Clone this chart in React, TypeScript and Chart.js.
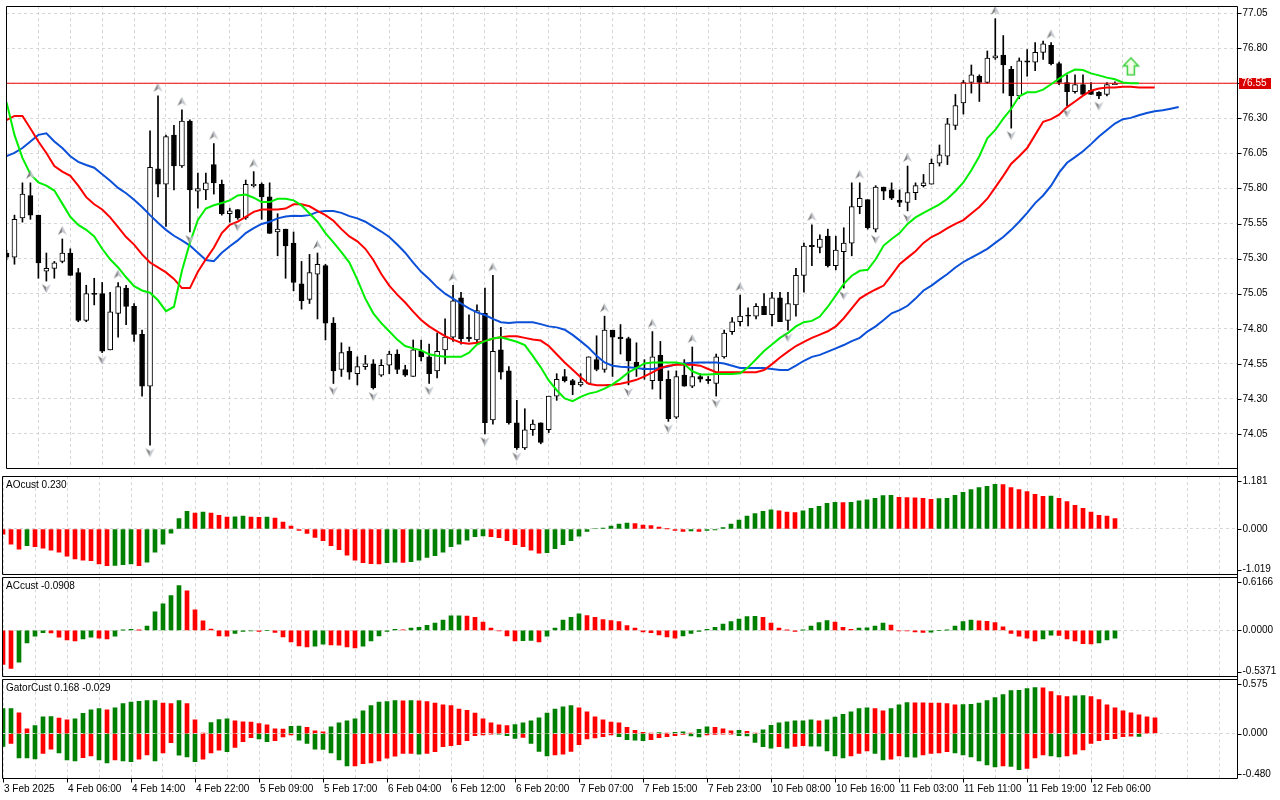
import React, { useEffect, useRef } from "react";
import Chart from "chart.js/auto";
import type { ChartConfiguration, Plugin } from "chart.js";

// H1 candles, bar 0 = 3 Feb 2025
const openPrices = [
    75.34, 75.31, 75.59, 75.75, 75.61, 75.21, 75.23, 75.28, 75.34, 75.20,
    74.86, 75.05, 75.05, 74.65, 74.91, 75.09, 74.96, 74.76, 74.39, 75.94,
    75.83, 76.18, 75.96, 76.28, 75.78, 75.79, 75.97, 75.83, 75.62, 75.65,
    75.59, 75.82, 75.83, 75.74, 75.49, 75.51, 75.41, 75.12, 75.01, 75.19,
    75.25, 74.84, 74.51, 74.64, 74.48, 74.53, 74.55, 74.47, 74.54, 74.62,
    74.51, 74.46, 74.64, 74.60, 74.50, 74.65, 74.74, 75.02, 74.74, 74.72,
    74.91, 74.15, 74.65, 74.50, 74.13, 73.95, 74.08, 74.13, 74.08, 74.32,
    74.46, 74.43, 74.40, 74.41, 74.58, 74.51, 74.79, 74.74, 74.73, 74.56,
    74.51, 74.43, 74.61, 74.44, 74.17, 74.47, 74.39, 74.46, 74.44, 74.41,
    74.60, 74.78, 74.85, 74.895, 74.89, 74.96, 74.90, 75.02, 74.86, 74.97,
    75.18, 75.395, 75.38, 75.46, 75.25, 75.35, 75.41, 75.67, 75.72, 75.51,
    75.81, 75.79, 75.715, 75.70, 75.77, 75.82, 75.83, 75.98, 76.03, 76.25,
    76.41, 76.555, 76.60, 76.555, 76.73, 76.75, 76.65, 76.46, 76.71, 76.70,
    76.77, 76.82, 76.69, 76.555, 76.49, 76.54, 76.50, 76.485, 76.47, 76.54,
];
const highPrices = [
    75.36, 75.61, 75.84, 75.84, 75.61, 75.34, 75.28, 75.44, 75.37, 75.23,
    75.11, 75.16, 75.13, 75.06, 75.13, 75.11, 74.98, 74.79, 76.21, 76.46,
    76.18, 76.25, 76.36, 76.29, 75.91, 75.91, 76.12, 75.86, 75.66, 75.65,
    75.86, 75.92, 75.84, 75.84, 75.62, 75.51, 75.49, 75.28, 75.33, 75.34,
    75.26, 74.88, 74.70, 74.67, 74.60, 74.61, 74.58, 74.58, 74.64, 74.65,
    74.54, 74.72, 74.72, 74.69, 74.77, 74.87, 75.11, 75.06, 74.90, 74.97,
    75.09, 75.18, 74.81, 74.53, 74.29, 74.23, 74.15, 74.13, 74.32, 74.48,
    74.51, 74.44, 74.48, 74.60, 74.75, 74.89, 74.79, 74.83, 74.74, 74.70,
    74.58, 74.78, 74.71, 74.50, 74.50, 74.58, 74.67, 74.48, 74.46, 74.62,
    74.79, 74.88, 75.04, 74.95, 74.98, 75.05, 75.06, 75.06, 75.06, 75.23,
    75.41, 75.54, 75.47, 75.51, 75.46, 75.52, 75.84, 75.84, 75.72, 75.82,
    75.81, 75.84, 75.79, 75.96, 75.84, 75.90, 76.01, 76.11, 76.30, 76.47,
    76.57, 76.68, 76.61, 76.78, 77.01, 76.89, 76.67, 76.73, 76.79, 76.84,
    76.85, 76.84, 76.70, 76.61, 76.61, 76.61, 76.555, 76.49, 76.555, 76.56,
];
const lowPrices = [
    75.29, 75.26, 75.56, 75.58, 75.16, 75.14, 75.16, 75.27, 75.18, 74.85,
    74.85, 74.97, 74.63, 74.65, 74.74, 74.83, 74.71, 74.32, 73.97, 75.74,
    75.53, 75.79, 75.95, 75.49, 75.66, 75.72, 75.76, 75.61, 75.56, 75.58,
    75.58, 75.81, 75.58, 75.48, 75.32, 75.16, 75.07, 74.94, 74.98, 74.87,
    74.72, 74.41, 74.46, 74.44, 74.40, 74.51, 74.37, 74.46, 74.48, 74.48,
    74.46, 74.46, 74.57, 74.41, 74.45, 74.55, 74.71, 74.69, 74.71, 74.69,
    74.05, 74.12, 74.44, 74.12, 73.94, 73.94, 74.04, 73.98, 74.06, 74.29,
    74.42, 74.33, 74.39, 74.41, 74.50, 74.49, 74.46, 74.62, 74.40, 74.46,
    74.44, 74.37, 74.30, 74.14, 74.16, 74.39, 74.38, 74.42, 74.41, 74.32,
    74.59, 74.76, 74.82, 74.82, 74.87, 74.90, 74.82, 74.85, 74.79, 74.89,
    75.06, 75.25, 75.34, 75.24, 75.22, 75.09, 75.32, 75.62, 75.51, 75.49,
    75.72, 75.72, 75.67, 75.64, 75.72, 75.81, 75.83, 75.96, 75.97, 76.22,
    76.33, 76.48, 76.42, 76.55, 76.72, 76.48, 76.23, 76.44, 76.60, 76.64,
    76.72, 76.68, 76.54, 76.39, 76.48, 76.47, 76.47, 76.44, 76.46, 76.54,
];
const closePrices = [
    75.31, 75.58, 75.76, 75.61, 75.27, 75.23, 75.27, 75.34, 75.18, 74.86,
    75.05, 75.045, 74.64, 74.92, 75.10, 74.96, 74.76, 74.39, 75.95, 75.83,
    76.17, 75.96, 76.28, 75.79, 75.80, 75.84, 75.84, 75.62, 75.64, 75.59,
    75.83, 75.83, 75.74, 75.48, 75.51, 75.39, 75.13, 75.00, 75.20, 75.26,
    74.84, 74.50, 74.63, 74.49, 74.53, 74.55, 74.38, 74.54, 74.62, 74.51,
    74.47, 74.65, 74.60, 74.48, 74.64, 74.74, 75.00, 74.73, 74.73, 74.93,
    74.13, 74.64, 74.49, 74.13, 73.95, 74.08, 74.12, 73.99, 74.32, 74.44,
    74.43, 74.40, 74.42, 74.60, 74.51, 74.79, 74.74, 74.73, 74.57, 74.53,
    74.52, 74.60, 74.43, 74.16, 74.46, 74.39, 74.46, 74.44, 74.43, 74.60,
    74.77, 74.85, 74.89, 74.89, 74.96, 74.90, 75.02, 74.85, 74.98, 75.18,
    75.39, 75.385, 75.44, 75.25, 75.36, 75.41, 75.67, 75.73, 75.52, 75.81,
    75.78, 75.73, 75.70, 75.77, 75.82, 75.84, 75.98, 76.04, 76.26, 76.39,
    76.555, 76.61, 76.555, 76.73, 76.745, 76.68, 76.46, 76.71, 76.70, 76.77,
    76.83, 76.69, 76.555, 76.49, 76.54, 76.47, 76.47, 76.46, 76.54, 76.55,
];

// alligator, already shifted (jaw 8, teeth 5, lips 3 bars past the last candle)
const jawLine = [
    76.030, 76.053, 76.088, 76.135, 76.182, 76.193, 76.135, 76.088, 76.030, 75.990,
    75.967, 75.948, 75.902, 75.855, 75.804, 75.766, 75.720, 75.668, 75.610, 75.556,
    75.505, 75.463, 75.430, 75.393, 75.342, 75.290, 75.281, 75.342, 75.388, 75.430,
    75.482, 75.517, 75.547, 75.563, 75.587, 75.600, 75.606, 75.603, 75.610, 75.633,
    75.640, 75.640, 75.626, 75.603, 75.587, 75.563, 75.528, 75.493, 75.454, 75.400,
    75.342, 75.272, 75.206, 75.155, 75.097, 75.050, 75.015, 74.980, 74.945, 74.917,
    74.898, 74.870, 74.847, 74.842, 74.847, 74.847, 74.847, 74.833, 74.817, 74.810,
    74.793, 74.756, 74.712, 74.665, 74.607, 74.560, 74.537, 74.530, 74.525, 74.520,
    74.513, 74.513, 74.520, 74.530, 74.548, 74.553, 74.558, 74.560, 74.560, 74.560,
    74.553, 74.537, 74.520, 74.520, 74.520, 74.520, 74.513, 74.506, 74.506, 74.537,
    74.572, 74.600, 74.614, 74.637, 74.660, 74.684, 74.712, 74.735, 74.782, 74.817,
    74.863, 74.910, 74.933, 74.964, 75.015, 75.073, 75.108, 75.150, 75.190, 75.237,
    75.276, 75.307, 75.337, 75.370, 75.412, 75.454, 75.505, 75.563, 75.626, 75.696,
    75.750, 75.820, 75.913, 75.983, 76.023, 76.065, 76.116, 76.170, 76.217, 76.263,
    76.294, 76.303, 76.322, 76.338, 76.350, 76.357, 76.368, 76.380,
];
const teethLine = [
    76.287, 76.317, 76.317, 76.228, 76.135, 76.053, 75.960, 75.920, 75.890, 75.820,
    75.738, 75.687, 75.650, 75.594, 75.524, 75.454, 75.400, 75.330, 75.272, 75.237,
    75.202, 75.155, 75.090, 75.090, 75.206, 75.295, 75.377, 75.482, 75.540, 75.563,
    75.598, 75.633, 75.650, 75.650, 75.650, 75.657, 75.687, 75.687, 75.673, 75.640,
    75.610, 75.570, 75.510, 75.458, 75.423, 75.370, 75.290, 75.190, 75.108, 75.043,
    74.987, 74.922, 74.863, 74.817, 74.782, 74.747, 74.723, 74.700, 74.693, 74.700,
    74.712, 74.730, 74.740, 74.747, 74.747, 74.735, 74.723, 74.716, 74.677, 74.618,
    74.560, 74.508, 74.455, 74.408, 74.397, 74.397, 74.401, 74.408, 74.420, 74.436,
    74.460, 74.490, 74.520, 74.537, 74.544, 74.544, 74.544, 74.537, 74.513, 74.490,
    74.490, 74.490, 74.490, 74.490, 74.490, 74.506, 74.548, 74.595, 74.637, 74.677,
    74.707, 74.735, 74.758, 74.782, 74.817, 74.875, 74.945, 75.015, 75.050, 75.080,
    75.108, 75.183, 75.260, 75.307, 75.353, 75.412, 75.454, 75.482, 75.517, 75.547,
    75.575, 75.622, 75.668, 75.727, 75.808, 75.890, 75.976, 76.030, 76.088, 76.182,
    76.275, 76.294, 76.326, 76.380, 76.420, 76.462, 76.497, 76.513, 76.520, 76.520,
    76.525, 76.525, 76.520, 76.520, 76.520,
];
const lipsLine = [
    76.415, 76.182, 76.018, 75.902, 75.843, 75.820, 75.785, 75.692, 75.598, 75.540,
    75.505, 75.458, 75.370, 75.295, 75.237, 75.167, 75.104, 75.073, 75.057, 75.003,
    74.926, 74.957, 75.213, 75.412, 75.575, 75.657, 75.680, 75.696, 75.715, 75.750,
    75.757, 75.734, 75.703, 75.703, 75.727, 75.727, 75.715, 75.680, 75.622, 75.563,
    75.482, 75.416, 75.346, 75.272, 75.150, 75.015, 74.910, 74.840, 74.782, 74.723,
    74.677, 74.660, 74.646, 74.618, 74.607, 74.600, 74.600, 74.600, 74.630, 74.688,
    74.712, 74.730, 74.740, 74.723, 74.707, 74.684, 74.607, 74.525, 74.432, 74.362,
    74.303, 74.284, 74.315, 74.338, 74.350, 74.373, 74.404, 74.443, 74.490, 74.520,
    74.553, 74.560, 74.560, 74.560, 74.560, 74.548, 74.497, 74.474, 74.474, 74.478,
    74.478, 74.478, 74.483, 74.525, 74.583, 74.642, 74.688, 74.735, 74.770, 74.817,
    74.847, 74.856, 74.887, 74.957, 75.038, 75.120, 75.178, 75.213, 75.220, 75.295,
    75.393, 75.440, 75.482, 75.547, 75.594, 75.626, 75.657, 75.687, 75.727, 75.780,
    75.843, 75.930, 76.030, 76.158, 76.217, 76.298, 76.368, 76.457, 76.485, 76.485,
    76.504, 76.543, 76.583, 76.620, 76.648, 76.644, 76.620, 76.606, 76.590, 76.578,
    76.555, 76.550, 76.550,
];

const upFractalBars = [3, 7, 14, 19, 22, 26, 31, 39, 56, 61, 75, 81, 86, 92, 101, 107, 113, 124, 131];
const downFractalBars = [5, 12, 18, 23, 29, 41, 46, 53, 60, 64, 78, 83, 89, 98, 105, 109, 113, 126, 133, 137];

const aoValues = [
    -0.115, -0.337, -0.448, -0.374, -0.396, -0.426, -0.470, -0.515, -0.604, -0.670,
    -0.693, -0.707, -0.781, -0.819, -0.811, -0.796, -0.781, -0.819, -0.737, -0.515,
    -0.337, -0.093, 0.233, 0.396, 0.352, 0.374, 0.352, 0.307, 0.263, 0.270,
    0.285, 0.263, 0.259, 0.263, 0.241, 0.152, 0.063, -0.033, -0.100, -0.189,
    -0.263, -0.374, -0.463, -0.581, -0.693, -0.752, -0.774, -0.781, -0.752, -0.741,
    -0.744, -0.730, -0.693, -0.633, -0.596, -0.515, -0.396, -0.337, -0.248, -0.174,
    -0.152, -0.174, -0.196, -0.263, -0.352, -0.396, -0.470, -0.537, -0.530, -0.441,
    -0.352, -0.263, -0.159, -0.056, 0.010, 0.019, 0.063, 0.107, 0.130, 0.122,
    0.085, 0.078, 0.041, 0.004, -0.033, -0.056, -0.041, -0.056, -0.033, -0.019,
    0.033, 0.107, 0.196, 0.285, 0.344, 0.396, 0.426, 0.404, 0.374, 0.367,
    0.404, 0.463, 0.507, 0.574, 0.596, 0.589, 0.596, 0.626, 0.648, 0.685,
    0.744, 0.752, 0.707, 0.700, 0.696, 0.685, 0.663, 0.678, 0.685, 0.752,
    0.819, 0.878, 0.922, 0.952, 0.996, 0.990, 0.922, 0.878, 0.833, 0.774,
    0.730, 0.733, 0.685, 0.611, 0.530, 0.463, 0.374, 0.307, 0.285, 0.230,
];
const acValues = [
    -0.395, -0.442, -0.368, -0.145, -0.066, -0.027, -0.030, -0.078, -0.110, -0.121,
    -0.098, -0.078, -0.090, -0.098, -0.066, 0.004, 0.012, 0.002, 0.051, 0.215,
    0.309, 0.403, 0.520, 0.461, 0.239, 0.110, 0.016, -0.063, -0.066, -0.035,
    -0.012, -0.004, -0.012, 0.000, -0.023, -0.074, -0.133, -0.180, -0.192, -0.184,
    -0.160, -0.168, -0.172, -0.192, -0.203, -0.184, -0.121, -0.063, -0.012, 0.012,
    0.008, 0.027, 0.035, 0.060, 0.086, 0.121, 0.168, 0.170, 0.166, 0.153,
    0.098, 0.027, -0.005, -0.063, -0.121, -0.119, -0.117, -0.133, -0.066, 0.027,
    0.121, 0.153, 0.192, 0.172, 0.153, 0.125, 0.113, 0.102, 0.055, 0.027,
    -0.016, -0.027, -0.051, -0.074, -0.090, -0.063, -0.035, -0.012, 0.012, 0.035,
    0.074, 0.102, 0.133, 0.160, 0.164, 0.153, 0.086, 0.027, 0.004, -0.012,
    0.004, 0.051, 0.090, 0.113, 0.098, 0.035, 0.012, 0.027, 0.029, 0.051,
    0.086, 0.063, -0.004, -0.006, -0.016, -0.023, -0.020, 0.000, 0.004, 0.051,
    0.102, 0.121, 0.110, 0.106, 0.090, 0.043, -0.035, -0.066, -0.090, -0.121,
    -0.098, -0.055, -0.057, -0.098, -0.121, -0.153, -0.156, -0.145, -0.110, -0.0908,
];
const gatorUpper = [
    0.264, 0.264, 0.221, 0.050, 0.086, 0.178, 0.180, 0.164, 0.146, 0.157,
    0.214, 0.253, 0.264, 0.253, 0.274, 0.317, 0.335, 0.342, 0.349, 0.350,
    0.324, 0.317, 0.349, 0.317, 0.146, 0.007, 0.118, 0.150, 0.157, 0.135,
    0.125, 0.121, 0.107, 0.093, 0.050, 0.048, 0.078, 0.080, 0.068, 0.029,
    0.018, 0.071, 0.114, 0.135, 0.157, 0.242, 0.296, 0.335, 0.339, 0.349,
    0.348, 0.349, 0.346, 0.339, 0.324, 0.306, 0.296, 0.260, 0.246, 0.217,
    0.157, 0.114, 0.093, 0.086, 0.096, 0.114, 0.135, 0.167, 0.217, 0.260,
    0.285, 0.296, 0.274, 0.232, 0.178, 0.146, 0.121, 0.114, 0.068, 0.036,
    0.014, 0.007, 0.011, 0.007, 0.014, 0.018, 0.004, 0.046, 0.071, 0.068,
    0.050, 0.029, 0.036, 0.025, 0.007, 0.039, 0.089, 0.114, 0.125, 0.135,
    0.136, 0.146, 0.135, 0.146, 0.175, 0.203, 0.232, 0.264, 0.274, 0.264,
    0.242, 0.264, 0.306, 0.328, 0.327, 0.326, 0.324, 0.323, 0.317, 0.306,
    0.307, 0.310, 0.324, 0.349, 0.381, 0.413, 0.456, 0.457, 0.478, 0.488,
    0.485, 0.445, 0.403, 0.392, 0.400, 0.403, 0.392, 0.360, 0.306, 0.274,
    0.242, 0.221, 0.200, 0.178, 0.168,
];
const gatorLower = [
    -0.135, -0.103, -0.257, -0.258, -0.267, -0.210, -0.164, -0.203, -0.278, -0.289,
    -0.253, -0.235, -0.278, -0.310, -0.278, -0.289, -0.296, -0.271, -0.225, -0.289,
    -0.203, -0.096, -0.228, -0.246, -0.296, -0.271, -0.203, -0.175, -0.192, -0.146,
    -0.086, -0.043, -0.057, -0.086, -0.075, -0.036, -0.014, -0.068, -0.103, -0.164,
    -0.168, -0.203, -0.278, -0.342, -0.341, -0.317, -0.310, -0.289, -0.260, -0.239,
    -0.210, -0.209, -0.217, -0.210, -0.192, -0.139, -0.128, -0.118, -0.075, -0.021,
    -0.014, -0.004, -0.005, -0.021, -0.050, -0.039, -0.103, -0.189, -0.235, -0.225,
    -0.217, -0.189, -0.118, -0.057, -0.046, -0.032, -0.014, -0.032, -0.064, -0.068,
    -0.075, -0.064, -0.043, -0.032, -0.021, -0.007, -0.025, -0.036, -0.014, -0.007,
    -0.004, -0.003, -0.021, -0.025, -0.093, -0.139, -0.153, -0.139, -0.153, -0.135,
    -0.128, -0.132, -0.133, -0.182, -0.235, -0.257, -0.235, -0.210, -0.182, -0.210,
    -0.278, -0.271, -0.235, -0.246, -0.249, -0.225, -0.210, -0.203, -0.192, -0.203,
    -0.225, -0.246, -0.289, -0.331, -0.353, -0.342, -0.346, -0.381, -0.367, -0.257,
    -0.225, -0.235, -0.246, -0.235, -0.217, -0.171, -0.103, -0.075, -0.064, -0.053,
    -0.032, -0.027, -0.029,
];

const priceTicks = [77.05, 76.80, 76.55, 76.30, 76.05, 75.80, 75.55, 75.30, 75.05, 74.80, 74.55, 74.30, 74.05];
// one label every 8 bars, starting at bar 0
const timeLabels = [
    "3 Feb 2025", "4 Feb 06:00", "4 Feb 14:00", "4 Feb 22:00", "5 Feb 09:00", "5 Feb 17:00",
    "6 Feb 04:00", "6 Feb 12:00", "6 Feb 20:00", "7 Feb 07:00", "7 Feb 15:00", "7 Feb 23:00",
    "10 Feb 08:00", "10 Feb 16:00", "11 Feb 03:00", "11 Feb 11:00", "11 Feb 19:00", "12 Feb 06:00",
];
const lastPrice = 76.55;
const signalBar = 141;
const signalPrice = 76.67;

const PRICE_MIN = 73.8005;
const PRICE_MAX = 77.1005;
const AO_MIN = -1.019;
const AO_MAX = 1.181;
const AC_MIN = -0.5371;
const AC_MAX = 0.6166;
const GATOR_MIN = -0.48;
const GATOR_MAX = 0.575;

const X_SPAN = 154.375;
const MAIN_X_MIN = -0.0625;
const SUB_X_MIN = -0.125;
const GREEN = "#008000";
const RED = "#ff0000";
const GRID = "#d6d6d6";
const FONT = "10px 'Liberation Sans', Arial, sans-serif";

const gridBars: number[] = [];
for (let b = 0; b <= 152; b += 4) gridBars.push(b);

// MT5 style colouring: green when the bar grew, red when it shrank
const trendColors = (values: number[], first: string, useAbs = false) => {
    const out: string[] = [];
    values.forEach((v, i) => {
        if (i === 0) {
            out.push(first);
            return;
        }
        const cur = useAbs ? Math.abs(v) : v;
        const prev = useAbs ? Math.abs(values[i - 1]) : values[i - 1];
        out.push(cur > prev ? GREEN : cur < prev ? RED : out[i - 1]);
    });
    return out;
};

const fractalIcon = (up: boolean) => {
    const c = document.createElement("canvas");
    c.width = 11;
    c.height = 30;
    const g = c.getContext("2d")!;
    const y0 = up ? 2 : 18;
    const tipY = up ? y0 : y0 + 9;
    const wingY = up ? y0 + 9 : y0;
    const notchY = up ? y0 + 6 : y0 + 3;
    g.beginPath();
    g.moveTo(5.5, tipY);
    g.lineTo(1, wingY);
    g.lineTo(5.5, notchY);
    g.closePath();
    g.fillStyle = "#7e7e7e";
    g.fill();
    g.beginPath();
    g.moveTo(5.5, tipY);
    g.lineTo(10, wingY);
    g.lineTo(5.5, notchY);
    g.closePath();
    g.fillStyle = "#c2c6cf";
    g.fill();
    return c;
};

const signalIcon = () => {
    const c = document.createElement("canvas");
    c.width = 18;
    c.height = 20;
    const g = c.getContext("2d")!;
    g.beginPath();
    g.moveTo(9, 1.5);
    g.lineTo(16.5, 9.5);
    g.lineTo(12.5, 9.5);
    g.lineTo(12.5, 18.5);
    g.lineTo(5.5, 18.5);
    g.lineTo(5.5, 9.5);
    g.lineTo(1.5, 9.5);
    g.closePath();
    g.fillStyle = "#f3fde8";
    g.fill();
    g.strokeStyle = "#3ccf3c";
    g.lineWidth = 1.5;
    g.stroke();
    return c;
};

type SideLabel = { value: number; text: string; pin?: "top" | "bottom" };

const framePlugin = (opts: {
    title?: string;
    labels: SideLabel[];
    axisFrom: "top" | "canvas";
    axisTo: "bottom" | "canvas";
    priceTag?: number;
    timeAxis?: boolean;
}): Plugin => ({
    id: "mtFrame",
    afterDraw(chart) {
        const { ctx, chartArea: a } = chart;
        const ys = chart.scales.y;
        const xs = chart.scales.x;
        const left = Math.round(a.left) + 0.5;
        const right = Math.round(a.right) + 0.5;
        const top = Math.round(a.top) + 0.5;
        const bottom = Math.round(a.bottom) - 0.5;

        ctx.save();
        ctx.strokeStyle = "#000";
        ctx.lineWidth = 1;
        ctx.beginPath();
        ctx.moveTo(left, top);
        ctx.lineTo(right, top);
        ctx.moveTo(left, bottom);
        ctx.lineTo(right, bottom);
        ctx.moveTo(left, top);
        ctx.lineTo(left, bottom);
        ctx.moveTo(right, opts.axisFrom === "top" ? top : 0);
        ctx.lineTo(right, opts.axisTo === "bottom" ? bottom : chart.height);
        ctx.stroke();

        ctx.font = FONT;
        ctx.fillStyle = "#000";
        ctx.textAlign = "left";
        ctx.textBaseline = "middle";
        opts.labels.forEach((l) => {
            let y = ys.getPixelForValue(l.value);
            if (l.pin === "top") y = a.top + 5;
            if (l.pin === "bottom") y = a.bottom - 5;
            const ty = Math.round(y) + 0.5;
            ctx.beginPath();
            ctx.moveTo(right, ty);
            ctx.lineTo(right + 4, ty);
            ctx.stroke();
            ctx.fillText(l.text, right + 5, y);
        });

        if (opts.priceTag !== undefined) {
            const py = Math.round(ys.getPixelForValue(opts.priceTag));
            ctx.fillStyle = "#d90000";
            ctx.fillRect(right + 1.5, py - 5, 32, 11);
            ctx.fillStyle = "#fff";
            ctx.fillText(opts.priceTag.toFixed(2), right + 4, py + 0.5);
            ctx.fillStyle = "#000";
        }

        if (opts.title) {
            ctx.fillText(opts.title, 6, a.top + 9);
        }

        if (opts.timeAxis) {
            timeLabels.forEach((text, k) => {
                const bx = Math.round(xs.getPixelForValue(k * 8)) + 0.5;
                ctx.beginPath();
                ctx.moveTo(bx, bottom);
                ctx.lineTo(bx, bottom + 4);
                ctx.stroke();
                ctx.fillText(text, bx + 0.5, a.bottom + 10);
            });
        }
        ctx.restore();
    },
});

const xScale = (xMin: number) => ({
    type: "linear" as const,
    min: xMin,
    max: xMin + X_SPAN,
    offset: false,
    afterBuildTicks: (scale: any) => {
        scale.ticks = gridBars.map((value) => ({ value }));
    },
    ticks: { display: false },
    grid: { color: GRID, drawTicks: false, offset: false },
    border: { display: false, dash: [3, 3] },
});

const yScale = (min: number, max: number, ticks: number[], gridOnTop = false) => ({
    type: "linear" as const,
    position: "right" as const,
    min,
    max,
    afterBuildTicks: (scale: any) => {
        scale.ticks = ticks.map((value) => ({ value }));
    },
    ticks: { display: false },
    grid: { color: GRID, drawTicks: false, z: gridOnTop ? 1 : 0 },
    border: { display: false, dash: [3, 3] },
});

const baseOptions = (padding: { top: number; bottom: number }) => ({
    responsive: false,
    animation: false as const,
    events: [],
    layout: { padding: { left: 2, right: 43, top: padding.top, bottom: padding.bottom } },
    plugins: { legend: { display: false }, tooltip: { enabled: false } },
});

const bars = openPrices.map((_, i) => i);

const buildMain = (): ChartConfiguration => {
    const upIcon = fractalIcon(true);
    const downIcon = fractalIcon(false);
    const lineSet = (values: number[], color: string, order: number) => ({
        type: "line" as const,
        data: values.map((y, x) => ({ x, y })),
        borderColor: color,
        borderWidth: 2,
        pointRadius: 0,
        tension: 0,
        order,
    });
    return {
        type: "bar",
        data: {
            datasets: [
                {
                    type: "bar",
                    data: bars.map((i) => ({ x: i, y: [lowPrices[i], highPrices[i]] })) as any,
                    backgroundColor: "#000",
                    borderWidth: 0,
                    barThickness: 1,
                    grouped: false,
                    order: 8,
                },
                {
                    type: "bar",
                    data: bars.map((i) => ({ x: i, y: [openPrices[i], closePrices[i]] })) as any,
                    backgroundColor: bars.map((i) => (closePrices[i] >= openPrices[i] ? "#fff" : "#000")),
                    borderColor: "#000",
                    borderWidth: 1,
                    borderSkipped: false,
                    barThickness: 5,
                    minBarLength: 1,
                    grouped: false,
                    order: 7,
                },
                {
                    type: "line",
                    data: [
                        { x: MAIN_X_MIN, y: lastPrice },
                        { x: MAIN_X_MIN + X_SPAN, y: lastPrice },
                    ],
                    borderColor: "#f00000",
                    borderWidth: 1,
                    pointRadius: 0,
                    order: 6,
                },
                lineSet(jawLine, "#0b50d8", 5),
                lineSet(teethLine, "#ff0000", 4),
                lineSet(lipsLine, "#00ee00", 3),
                {
                    type: "line",
                    data: upFractalBars.map((i) => ({ x: i, y: highPrices[i] })),
                    showLine: false,
                    pointStyle: upIcon,
                    pointRadius: 5,
                    order: 2,
                },
                {
                    type: "line",
                    data: downFractalBars.map((i) => ({ x: i, y: lowPrices[i] })),
                    showLine: false,
                    pointStyle: downIcon,
                    pointRadius: 5,
                    order: 1,
                },
                {
                    type: "line",
                    data: [{ x: signalBar, y: signalPrice }],
                    showLine: false,
                    pointStyle: signalIcon(),
                    pointRadius: 5,
                    order: 0,
                },
            ] as any,
        },
        options: {
            ...baseOptions({ top: 2, bottom: 2.3 }),
            scales: {
                x: xScale(MAIN_X_MIN),
                y: yScale(PRICE_MIN, PRICE_MAX, priceTicks),
            },
        } as any,
        plugins: [
            framePlugin({
                labels: priceTicks.map((v) => ({ value: v, text: v.toFixed(2) })),
                axisFrom: "top",
                axisTo: "canvas",
                priceTag: lastPrice,
            }),
        ],
    };
};

const histogramSet = (values: number[], colors: string[]) => ({
    type: "bar" as const,
    data: values.map((y, x) => ({ x, y })),
    backgroundColor: colors,
    borderWidth: 0,
    barThickness: 4,
    grouped: false,
});

const buildAO = (): ChartConfiguration => ({
    type: "bar",
    data: { datasets: [histogramSet(aoValues, trendColors(aoValues, RED))] as any },
    options: {
        ...baseOptions({ top: 1, bottom: 1.3 }),
        scales: { x: xScale(SUB_X_MIN), y: yScale(AO_MIN, AO_MAX, [0]) },
    } as any,
    plugins: [
        framePlugin({
            title: `AOcust ${aoValues[aoValues.length - 1].toFixed(3)}`,
            labels: [
                { value: AO_MAX, text: AO_MAX.toFixed(3), pin: "top" },
                { value: 0, text: (0).toFixed(3) },
                { value: AO_MIN, text: AO_MIN.toFixed(3), pin: "bottom" },
            ],
            axisFrom: "canvas",
            axisTo: "canvas",
        }),
    ],
});

const buildAC = (): ChartConfiguration => ({
    type: "bar",
    data: { datasets: [histogramSet(acValues, trendColors(acValues, RED))] as any },
    options: {
        ...baseOptions({ top: 1.3, bottom: 1.3 }),
        scales: { x: xScale(SUB_X_MIN), y: yScale(AC_MIN, AC_MAX, [0]) },
    } as any,
    plugins: [
        framePlugin({
            title: `ACcust ${acValues[acValues.length - 1].toFixed(4)}`,
            labels: [
                { value: AC_MAX, text: AC_MAX.toFixed(4), pin: "top" },
                { value: 0, text: (0).toFixed(4) },
                { value: AC_MIN, text: AC_MIN.toFixed(4), pin: "bottom" },
            ],
            axisFrom: "canvas",
            axisTo: "canvas",
        }),
    ],
});

const buildGator = (): ChartConfiguration => ({
    type: "bar",
    data: {
        datasets: [
            histogramSet(gatorUpper, trendColors(gatorUpper, GREEN, true)),
            histogramSet(gatorLower, trendColors(gatorLower, GREEN, true)),
        ] as any,
    },
    options: {
        ...baseOptions({ top: 1.3, bottom: 21 }),
        scales: { x: xScale(SUB_X_MIN), y: yScale(GATOR_MIN, GATOR_MAX, [0], true) },
    } as any,
    plugins: [
        framePlugin({
            title: `GatorCust ${gatorUpper[gatorUpper.length - 1].toFixed(3)} ${gatorLower[gatorLower.length - 1].toFixed(3)}`,
            labels: [
                { value: GATOR_MAX, text: GATOR_MAX.toFixed(3), pin: "top" },
                { value: 0, text: (0).toFixed(3) },
                { value: GATOR_MIN, text: GATOR_MIN.toFixed(3), pin: "bottom" },
            ],
            axisFrom: "canvas",
            axisTo: "bottom",
            timeAxis: true,
        }),
    ],
});

const Panel: React.FC<{ top: number; height: number; build: () => ChartConfiguration }> = ({ top, height, build }) => {
    const canvasRef = useRef<HTMLCanvasElement | null>(null);

    useEffect(() => {
        const canvas = canvasRef.current;
        if (!canvas) return;
        const chart = new Chart(canvas, build());
        return () => {
            chart.destroy();
        };
    }, [build]);

    return (
        <canvas
            ref={canvasRef}
            width={1280}
            height={height}
            style={{ position: "absolute", left: 0, top, width: 1280, height }}
        />
    );
};

export default function App() {
    return (
        <div style={{ position: "fixed", left: 0, top: 0, width: 1280, height: 800, background: "#fff", overflow: "hidden" }}>
            <Panel top={0} height={475} build={buildMain} />
            <Panel top={475} height={101} build={buildAO} />
            <Panel top={576} height={102} build={buildAC} />
            <Panel top={678} height={122} build={buildGator} />
        </div>
    );
}
